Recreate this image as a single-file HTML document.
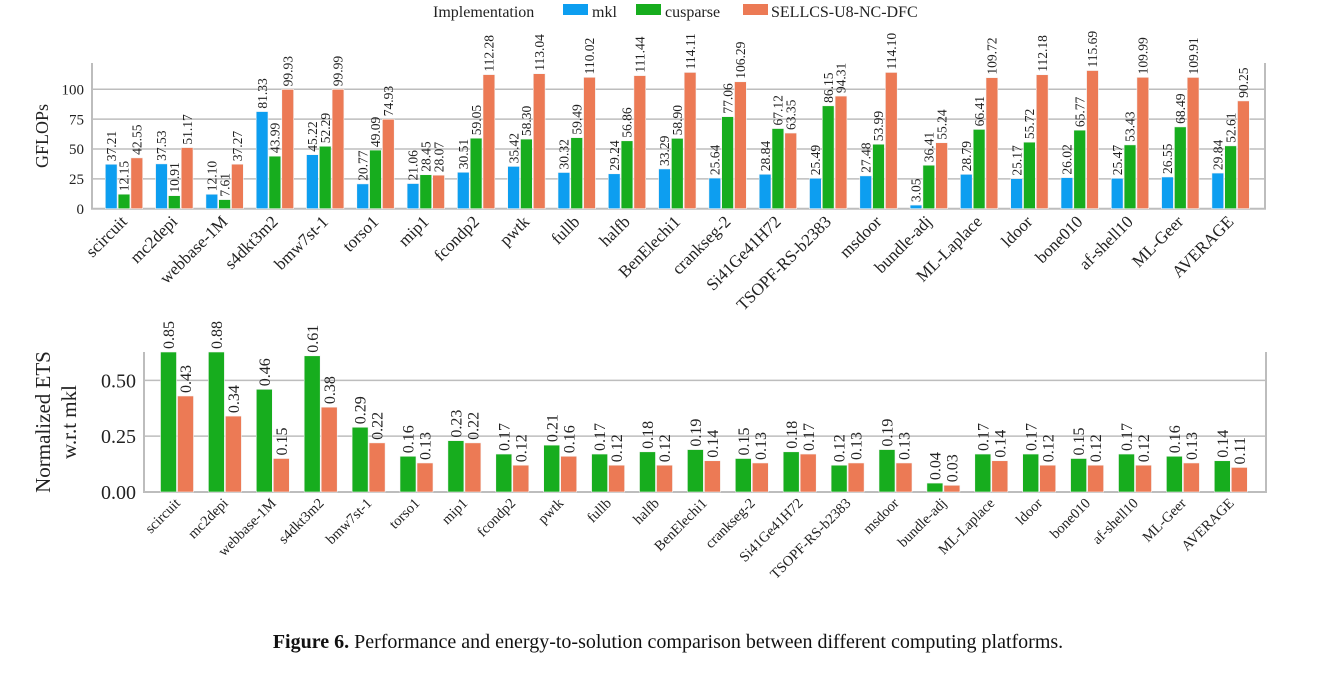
<!DOCTYPE html>
<html><head><meta charset="utf-8"><style>
body{margin:0;background:#fff;width:1336px;height:675px;overflow:hidden}
svg{display:block;font-family:"Liberation Serif",serif}
</style></head><body>
<svg id="chart" width="1336" height="675" viewBox="0 0 1336 675" xmlns="http://www.w3.org/2000/svg">
<g font-size="16" fill="#222">
<text x="433" y="17">Implementation</text>
<rect x="563" y="4" width="25" height="11" fill="#0d9ef0"/>
<text x="592" y="17">mkl</text>
<rect x="636" y="4" width="25" height="11" fill="#17ad1e"/>
<text x="665" y="17">cusparse</text>
<rect x="743" y="4" width="25" height="11" fill="#ec7a55"/>
<text x="771" y="17">SELLCS-U8-NC-DFC</text>
</g>
<g id="gtop"></g>
<g id="gbot"></g>
<text x="668" y="648" text-anchor="middle" font-size="20" fill="#111"><tspan font-weight="bold">Figure 6.</tspan> Performance and energy-to-solution comparison between different computing platforms.</text>
</svg>
<script>
const categories=["scircuit","mc2depi","webbase-1M","s4dkt3m2","bmw7st-1","torso1","mip1","fcondp2","pwtk","fullb","halfb","BenElechi1","crankseg-2","Si41Ge41H72","TSOPF-RS-b2383","msdoor","bundle-adj","ML-Laplace","ldoor","bone010","af-shell10","ML-Geer","AVERAGE"];
const mklGflops=[37.21,37.53,12.10,81.33,45.22,20.77,21.06,30.51,35.42,30.32,29.24,33.29,25.64,28.84,25.49,27.48,3.05,28.79,25.17,26.02,25.47,26.55,29.84];
const cusparseGflops=[12.15,10.91,7.61,43.99,52.29,49.09,28.45,59.05,58.30,59.49,56.86,58.90,77.06,67.12,86.15,53.99,36.41,66.41,55.72,65.77,53.43,68.49,52.61];
const sellcsGflops=[42.55,51.17,37.27,99.93,99.99,74.93,28.07,112.28,113.04,110.02,111.44,114.11,106.29,63.35,94.31,114.10,55.24,109.72,112.18,115.69,109.99,109.91,90.25];
const cusparseEts=[0.85,0.88,0.46,0.61,0.29,0.16,0.23,0.17,0.21,0.17,0.18,0.19,0.15,0.18,0.12,0.19,0.04,0.17,0.17,0.15,0.17,0.16,0.14];
const sellcsEts=[0.43,0.34,0.15,0.38,0.22,0.13,0.22,0.12,0.16,0.12,0.12,0.14,0.13,0.17,0.13,0.13,0.03,0.14,0.12,0.12,0.12,0.13,0.11];
const topTicks=[0,25,50,75,100];
const botTicks=[0,0.25,0.5];
const botTickLabels=["0.00","0.25","0.50"];
const NS="http://www.w3.org/2000/svg";
function mk(parent,tag,attrs,text){const e=document.createElementNS(NS,tag);for(const k in attrs)e.setAttribute(k,attrs[k]);if(text!==undefined)e.textContent=text;parent.appendChild(e);return e;}

function drawChart(g,cfg){
  const y=v=>cfg.y0-(v/cfg.ymax)*(cfg.y0-cfg.ytop);
  cfg.ticks.forEach((t,i)=>{
    const line=mk(g,"line",{x1:cfg.left,x2:cfg.right,y1:y(t),y2:y(t),stroke:"#bdbdbd","stroke-width":1.5});
    
    
    const tx=mk(g,"text",{x:cfg.left-8,y:y(t)+cfg.tickFont*0.35,"text-anchor":"end","font-size":cfg.tickFont,fill:"#222"},cfg.tickLabels[i]);
    
    
  });
  const ax=mk(g,"path",{d:`M${cfg.left},${cfg.ytop} V${cfg.y0} H${cfg.right} V${cfg.ytop}`,fill:"none",stroke:"#bdbdbd","stroke-width":2});
  
  
  const n=cfg.series.length;
  categories.forEach((c,i)=>{
    const cx=cfg.c0+cfg.step*i;
    cfg.series.forEach((s,j)=>{
      const v=s.values[i];
      const bx=cx-(n*cfg.bw)/2+j*cfg.bw;
      const yt=Math.max(y(v),cfg.ytop);
      const r=mk(g,"rect",{x:bx+0.5,y:yt,width:cfg.bw-1,height:cfg.y0-yt,fill:s.color,stroke:"#f4f4f4","stroke-width":0.6});
      
      
      const lx=bx+cfg.bw/2+cfg.valFont*0.35, ly=yt-3;
      const t=mk(g,"text",{x:lx,y:ly,transform:`rotate(-90 ${lx} ${ly})`,"font-size":cfg.valFont,fill:"#222"},s.fmt(v));
      
      
    });
    const xl=cx+4, yl=cfg.y0+cfg.labOff;
    const t=mk(g,"text",{x:xl,y:yl,transform:`rotate(-45 ${xl} ${yl})`,"text-anchor":"end","font-size":cfg.labFont,fill:"#222"},c);
    
    
  });
}
const gTop=document.getElementById("gtop"),gBot=document.getElementById("gbot");
drawChart(gTop,{left:92,right:1265,y0:208.7,ytop:63,ymax:122,ticks:topTicks,tickLabels:topTicks.map(String),tickFont:15,valFont:13.5,labFont:17,labOff:14,c0:124,step:50.3,bw:12.8,
 series:[{name:"mkl",values:mklGflops,color:"#0d9ef0",fmt:v=>v.toFixed(2)},{name:"cusparse",values:cusparseGflops,color:"#17ad1e",fmt:v=>v.toFixed(2)},{name:"sellcs",values:sellcsGflops,color:"#ec7a55",fmt:v=>v.toFixed(2)}]});
drawChart(gBot,{left:144,right:1266,y0:492,ytop:352,ymax:0.627,ticks:botTicks,tickLabels:botTickLabels,tickFont:20,valFont:16,labFont:14.5,labOff:12,c0:177,step:47.9,bw:17,
 series:[{name:"cusparse",values:cusparseEts,color:"#17ad1e",fmt:v=>v.toFixed(2)},{name:"sellcs",values:sellcsEts,color:"#ec7a55",fmt:v=>v.toFixed(2)}]});
const ytl=mk(gTop,"text",{x:0,y:0,transform:"translate(48 136) rotate(-90)","text-anchor":"middle","font-size":18,fill:"#222"},"GFLOPs");


const yb=mk(gBot,"text",{x:0,y:0,transform:"translate(50 422) rotate(-90)","text-anchor":"middle","font-size":21,fill:"#222"},"Normalized ETS");


const yb2=mk(gBot,"text",{x:0,y:0,transform:"translate(76 422) rotate(-90)","text-anchor":"middle","font-size":21,fill:"#222"},"w.r.t mkl");


</script>
</body></html>
